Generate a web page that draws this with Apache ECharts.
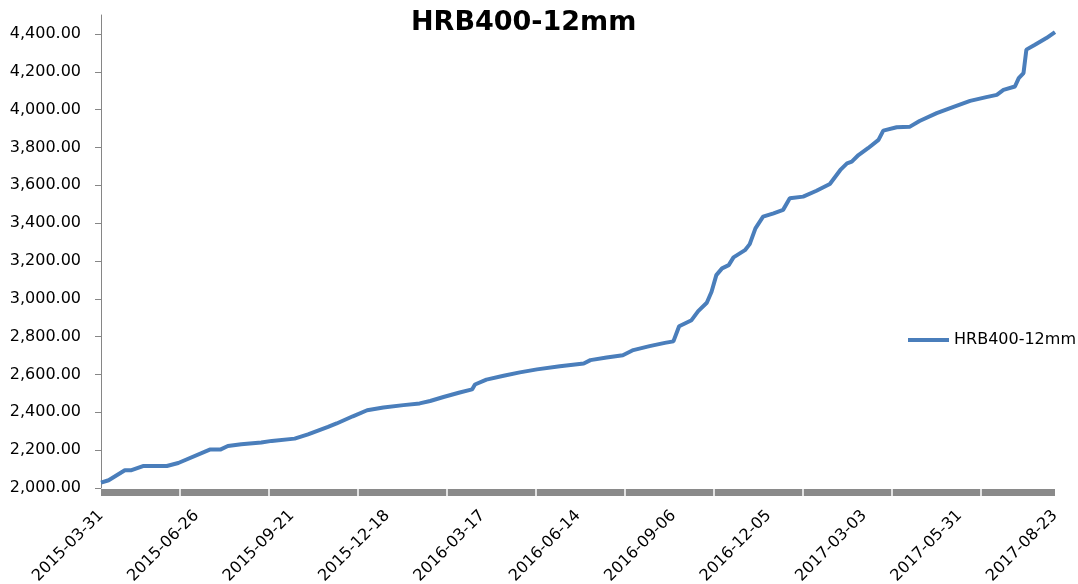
<!DOCTYPE html>
<html>
<head>
<meta charset="utf-8">
<title>HRB400-12mm</title>
<script src="https://cdn.jsdelivr.net/npm/echarts@6/dist/echarts.min.js"></script>
<style>
  html, body { margin: 0; padding: 0; background: #fff; }
  #main { width: 1078px; height: 584px; }
</style>
</head>
<body>
<div id="main"></div>
<script>
// x positions are in "label steps": 0 = 2015-03-31, 10 = 2017-08-23
const dateLabels = ['2015-03-31', '2015-06-26', '2015-09-21', '2015-12-18', '2016-03-17',
  '2016-06-14', '2016-09-06', '2016-12-05', '2017-03-03', '2017-05-31', '2017-08-23']
const labelSteps = [0, 1, 2, 3, 4, 5, 6, 7, 8, 9, 10]
const majorTicks = [0.828, 1.761, 2.694, 3.627, 4.56, 5.493, 6.426, 7.359, 8.292, 9.225]
const yTicks = [2000, 2200, 2400, 2600, 2800, 3000, 3200, 3400, 3600, 3800, 4000, 4200, 4400]

const xPos = [0, 0.08, 0.25, 0.32, 0.44, 0.69, 0.81, 1.14, 1.25, 1.33, 1.47, 1.68, 1.79,
  2.03, 2.17, 2.38, 2.47, 2.64, 2.79, 2.96, 3.17, 3.34, 3.45, 3.59, 3.76, 3.89, 3.92,
  4.04, 4.22, 4.39, 4.57, 4.81, 5.06, 5.13, 5.30, 5.47, 5.58, 5.75, 5.91, 6.00, 6.06,
  6.19, 6.26, 6.35, 6.40, 6.45, 6.51, 6.58, 6.63, 6.75, 6.80, 6.86, 6.94, 7.05, 7.15,
  7.22, 7.36, 7.50, 7.64, 7.75, 7.82, 7.87, 7.94, 8.04, 8.15, 8.20, 8.34, 8.48, 8.58,
  8.76, 8.93, 9.11, 9.28, 9.39, 9.46, 9.58, 9.62, 9.67, 9.70, 9.79, 9.91, 10.00]
const prices = [2028, 2041, 2094, 2094, 2116, 2116, 2132, 2203, 2203, 2222, 2231, 2240, 2249,
  2261, 2283, 2323, 2341, 2379, 2411, 2425, 2438, 2447, 2460, 2481, 2505, 2521, 2547,
  2573, 2593, 2611, 2627, 2644, 2658, 2676, 2690, 2702, 2729, 2750, 2767, 2775, 2855,
  2887, 2935, 2979, 3037, 3125, 3161, 3178, 3219, 3257, 3289, 3372, 3434, 3452, 3470,
  3531, 3540, 3571, 3607, 3681, 3716, 3725, 3760, 3796, 3840, 3889, 3907, 3910, 3940,
  3981, 4013, 4046, 4066, 4078, 4104, 4122, 4166, 4193, 4317, 4343, 4378, 4410]

const seriesName = 'HRB400-12mm'
const font = 'DejaVu Sans'

const chart = echarts.init(document.getElementById('main'), null, { renderer: 'canvas' })

chart.setOption({
  animation: false,
  title: {
    text: seriesName,
    left: 406,
    top: 4,
    textStyle: { fontFamily: font, fontSize: 27, fontWeight: 'bold', color: '#000' }
  },
  legend: {
    data: [seriesName],
    left: 903,
    top: 327,
    icon: 'rect',
    itemWidth: 41,
    itemHeight: 4,
    itemGap: 6,
    textStyle: { fontFamily: font, fontSize: 16, color: '#000' }
  },
  grid: {
    left: 101,
    right: 23,
    top: 15,
    bottom: 96,
    outerBoundsMode: 'none'
  },
  xAxis: [
    {
      // thick tick band under the plot
      type: 'value',
      position: 'bottom',
      min: 0,
      max: 10,
      offset: 4,
      axisLine: { lineStyle: { color: '#8a8a8a', width: 7, cap: 'butt' } },
      axisTick: { show: false },
      axisLabel: { show: false },
      splitLine: { show: false }
    },
    {
      type: 'value',
      position: 'bottom',
      min: 0,
      max: 10,
      axisLine: { show: false },
      axisTick: {
        customValues: majorTicks,
        length: 8,
        lineStyle: { color: '#fff', width: 1.5 }
      },
      axisLabel: {
        customValues: labelSteps,
        formatter: (v) => dateLabels[Math.round(v)],
        rotate: 45,
        margin: 25,
        fontFamily: font,
        fontSize: 16,
        color: '#000'
      },
      splitLine: { show: false }
    }
  ],
  yAxis: {
    type: 'value',
    min: 2000,
    max: 4500,
    axisLine: { show: true, lineStyle: { color: '#868686', width: 1 } },
    axisTick: { show: true, customValues: yTicks, length: 6, lineStyle: { color: '#868686' } },
    axisLabel: {
      customValues: yTicks,
      formatter: (v) => v.toLocaleString('en-US', { minimumFractionDigits: 2, maximumFractionDigits: 2 }),
      margin: 20,
      fontFamily: font,
      fontSize: 16,
      color: '#000'
    },
    splitLine: { show: false }
  },
  series: [{
    name: seriesName,
    type: 'line',
    xAxisIndex: 0,
    data: xPos.map((x, i) => [x, prices[i]]),
    showSymbol: false,
    lineStyle: { color: '#4A7EBB', width: 4 },
    itemStyle: { color: '#4A7EBB' }
  }]
})

window.addEventListener('resize', () => {
  chart.resize()
})
</script>
</body>
</html>
